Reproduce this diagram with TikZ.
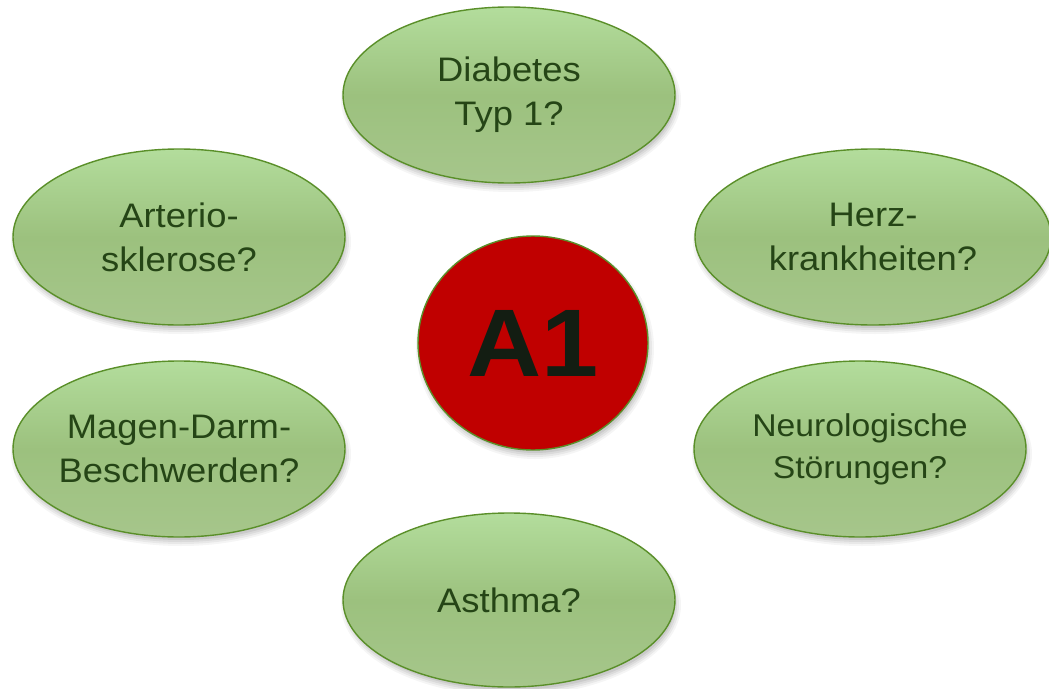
\documentclass[tikz,border=0pt]{standalone}
\usepackage{fontspec}
\setmainfont[FakeStretch=1.07]{Liberation Sans}
\usetikzlibrary{shapes.geometric}
\definecolor{gtop}{HTML}{B3DD9C}
\definecolor{gmid}{HTML}{9CC17E}
\definecolor{gbot}{HTML}{A6C68B}
\definecolor{gborder}{HTML}{5A8F29}
\definecolor{gtext}{HTML}{254516}
\definecolor{redfill}{HTML}{C00000}
\definecolor{atext}{HTML}{131D12}
\tikzset{
  x=1pt, y=-1pt,
  bubble/.style={ellipse, draw=gborder, line width=1.4pt, inner sep=0pt,
    top color=gtop, bottom color=gbot, middle color=gmid,
    minimum width=332pt, minimum height=176pt},
  btext/.style={align=center, inner sep=0pt, text=gtext,
    font=\fontsize{34}{44}\selectfont},
  hub/.style={ellipse, draw=gborder, line width=1.4pt, fill=redfill, inner sep=0pt,
    minimum width=230pt, minimum height=214pt, text=atext,
    font=\fontsize{96}{100}\selectfont\bfseries}
}
\begin{document}
\begin{tikzpicture}
\useasboundingbox (0,0) rectangle (1049,688);
\fill[white] (0,0) rectangle (1049,688);
% soft shadows
\foreach \cx/\cy/\rx/\ry in {509/95/166/88, 873/237/178/88, 179/237/166/88, 179/449/166/88, 860/449/166/88, 509/600/166/87, 533/343/115/107}{
  \foreach \d/\o in {7/0.04,5/0.05,3/0.06,1/0.07}{
    \fill[black,opacity=\o] (\cx+2,\cy+5) ellipse ({\rx+\d-3} and {\ry+\d-3});
  }
}
\node[bubble] (diab) at (509,95) {};
\node[btext] (diabt) at (diab.center) {Diabetes\\Typ 1?};
\node[bubble, minimum width=356pt] (herz) at (873,237) {};
\node[btext] (herzt) at (herz.center) {Herz-\\krankheiten?};
\node[bubble] (art) at (179,237) {};
\node[btext] (artt) at (art.center) {Arterio-\\sklerose?};
\node[bubble] (magen) at (179,449) {};
\node[btext] (magent) at (magen.center) {Magen-Darm-\\Beschwerden?};
\node[bubble] (neuro) at (860,449) {};
\node[btext, font=\fontsize{31.5}{42}\selectfont] (neurot) at (neuro.center) {Neurologische\\Störungen?};
\node[bubble, minimum height=174pt] (asthma) at (509,600) {};
\node[btext] (asthmat) at (asthma.center) {Asthma?};
\node[hub] (a1) at (533,343) {A1};
\end{tikzpicture}
\end{document}
